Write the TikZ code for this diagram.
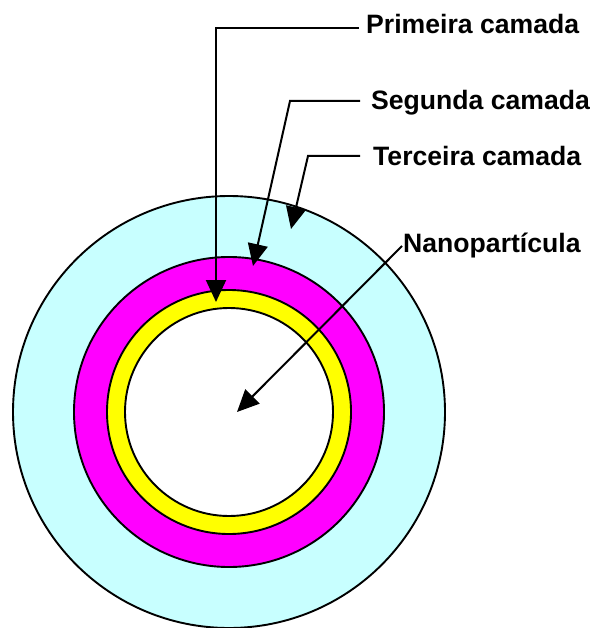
\documentclass[tikz,border=0pt]{standalone}
\usepackage{fontspec}
\setmainfont{Liberation Sans}
\usetikzlibrary{arrows.meta}
\definecolor{ltcyan}{HTML}{C8FFFF}
\definecolor{mag}{HTML}{FF00FF}
\definecolor{yel}{HTML}{FFFF00}
\tikzset{
  ring/.style={draw=black, line width=1.9pt},
  lbl/.style={anchor=base west, inner sep=0pt, font=\fontsize{26.6}{30}\selectfont\bfseries},
  pointer/.style={draw=black, line width=2pt, -{Triangle[length=22pt,width=20pt]}}
}
\begin{document}
\begin{tikzpicture}[x=1pt,y=-1pt]
\useasboundingbox (0,0) rectangle (598,628);
% rings
\fill[ltcyan] (229,412) circle[radius=216];
\draw[ring] (229,412) circle[radius=216];
\filldraw[ring, fill=mag] (229,412) circle[radius=155];
\filldraw[ring, fill=yel] (229,412) circle[radius=122];
\filldraw[ring, fill=white] (229,412) circle[radius=104];
% labels
\node[lbl] (p1) at (366,34) {Primeira camada};
\node[lbl] (s1) at (371,110) {Segunda camada};
\node[lbl] (t1) at (373,166) {Terceira camada};
\node[lbl] (n1) at (403,252) {Nanopartícula};
% free ends
\coordinate (pe) at (216,302);
\coordinate (se) at (253,266);
\coordinate (te) at (291,229);
\coordinate (ne) at (237,412);
% connectors
\draw[pointer] ([xshift=-7pt]p1.west |- 0,28) -- (216,28) -- (pe);
\draw[pointer] ([xshift=-11pt]s1.west |- 0,101) -- (290,101) -- (se);
\draw[pointer] ([xshift=-13pt]t1.west |- 0,156) -- (308,156) -- (te);
\draw[pointer] ([xshift=-1pt]n1.west |- 0,246) -- (ne);
\end{tikzpicture}
\end{document}
